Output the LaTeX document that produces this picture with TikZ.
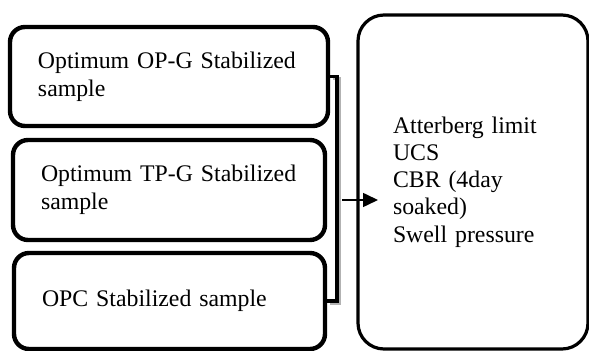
\documentclass[tikz,border=0pt]{standalone}
\usepackage{fontspec}
\setmainfont{Liberation Serif}
\usetikzlibrary{arrows.meta}
\tikzset{
  samplebox/.style={draw=black,line width=2.2pt,rounded corners=7.5pt,inner xsep=14pt,align=left,
    font=\fontsize{11.9}{13.8}\selectfont},
  testbox/.style={draw=black,line width=1.6pt,rounded corners=13pt,inner xsep=17.5pt,align=left,
    font=\fontsize{11.9}{13.6}\selectfont},
  bracket/.style={line width=1.6pt},
}
\begin{document}
\begin{tikzpicture}[x=0.5pt,y=-0.5pt]
\useasboundingbox (0,0) rectangle (589,351);
\node[samplebox,minimum width=159pt,minimum height=49.5pt,text width=131pt] (opg) at (169,76.5) {Optimum OP-G Stabilized\\sample};
\node[samplebox,minimum width=156pt,minimum height=50pt,text width=128pt] (tpg) at (169,190) {Optimum TP-G Stabilized\\sample};
\node[samplebox,minimum width=155.5pt,minimum height=48pt,text width=127.5pt] (opc) at (169.5,301) {OPC Stabilized sample};
\node[testbox,minimum width=115pt,minimum height=167pt,text width=80pt] (tests) at (473,182) {Atterberg limit\\UCS\\CBR (4day\\soaked)\\Swell pressure};
% bracket joining the samples
\coordinate (brk) at (337,190);
\draw[bracket,gray!60,transform canvas={xshift=1.2pt,yshift=-1.2pt}] (opg.east) -| (brk) |- (opc.east);
\draw[bracket] (opg.east) -| (brk) |- (opc.east);
\coordinate (arrfrom) at (342,200);
\coordinate (arrtip) at (378,200);
\draw[line width=0.8pt,-{Triangle[length=7.5pt,width=7pt]}] (arrfrom) -- (arrtip);
\end{tikzpicture}
\end{document}
